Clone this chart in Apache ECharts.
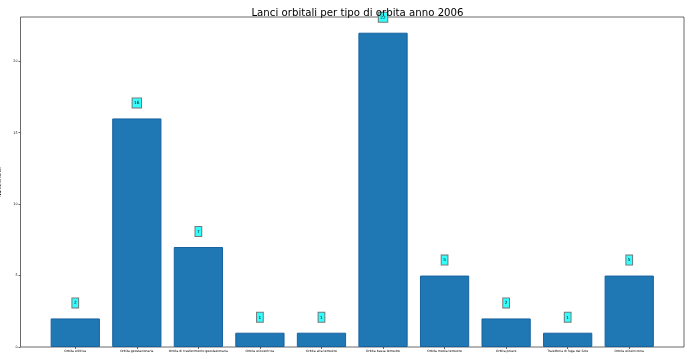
<!DOCTYPE html>
<html><head><meta charset="utf-8">
<script src="https://cdn.jsdelivr.net/npm/echarts@6/dist/echarts.min.js"></script>
<style>html,body{margin:0;padding:0;background:#fff}#c{width:690px;height:359px}</style>
</head><body><div id="c"></div>
<script>
const categories = ["Orbita ellittica","Orbita geostazionaria","Orbita di trasferimento geostazionaria","Orbita eliocentrica","Orbita alta terrestre","Orbita bassa terrestre","Orbita media terrestre","Orbita polare","Traiettoria di fuga dal Sole","Orbita eliosincrona"];
const launches = [2,16,7,1,1,22,5,2,1,5];
const yTicks = [0,5,10,15,20];
const titleText = "Lanci orbitali per tipo di orbita anno 2006";
const yName = "Numero lanci";

const chart = echarts.init(document.getElementById('c'), null, {renderer:'canvas'});
const fontFam = 'DejaVu Sans';
chart.setOption({
  animation:false,
  title:{text:titleText,left:352.5,top:3,textAlign:'center',textStyle:{fontFamily:fontFam,fontSize:10.2,fontWeight:'normal',color:'#000'}},
  grid:{left:44.5,right:30,top:17,bottom:12,containLabel:false,outerBoundsMode:'none'},
  graphic:[{type:'rect',shape:{x:20.5,y:17,width:663.5,height:330},style:{fill:'none',stroke:'#444',lineWidth:0.8},z:0}],
  xAxis:{type:'category',data:categories,
    axisLine:{show:false},
    axisTick:{show:true,alignWithLabel:true,length:2,lineStyle:{color:'#444',width:0.8}},
    axisLabel:{fontFamily:fontFam,fontSize:3.1,color:'#000',margin:3,interval:0}},
  yAxis:{type:'value',min:0,max:23.1,offset:24,
    name:yName,nameLocation:'middle',nameGap:11,nameTextStyle:{fontFamily:fontFam,fontSize:4.5,color:'#000'},
    splitLine:{show:false},
    axisLine:{show:false},
    axisTick:{show:true,length:2,customValues:yTicks,lineStyle:{color:'#444',width:0.8}},
    axisLabel:{customValues:yTicks,fontFamily:fontFam,fontSize:3.3,color:'#000',margin:3}},
  series:[{type:'bar',data:launches,barWidth:'80%',
    itemStyle:{color:'#1f77b4',borderColor:'#1763a0',borderWidth:1},
    label:{show:true,position:'top',distance:11,fontFamily:fontFam,fontSize:4.3,lineHeight:4.5,color:'#000',
      backgroundColor:'#33ffff',borderColor:'#777',borderWidth:1,padding:[2.5,1.5,2,1.5]},
    z:3}]
});
</script></body></html>
